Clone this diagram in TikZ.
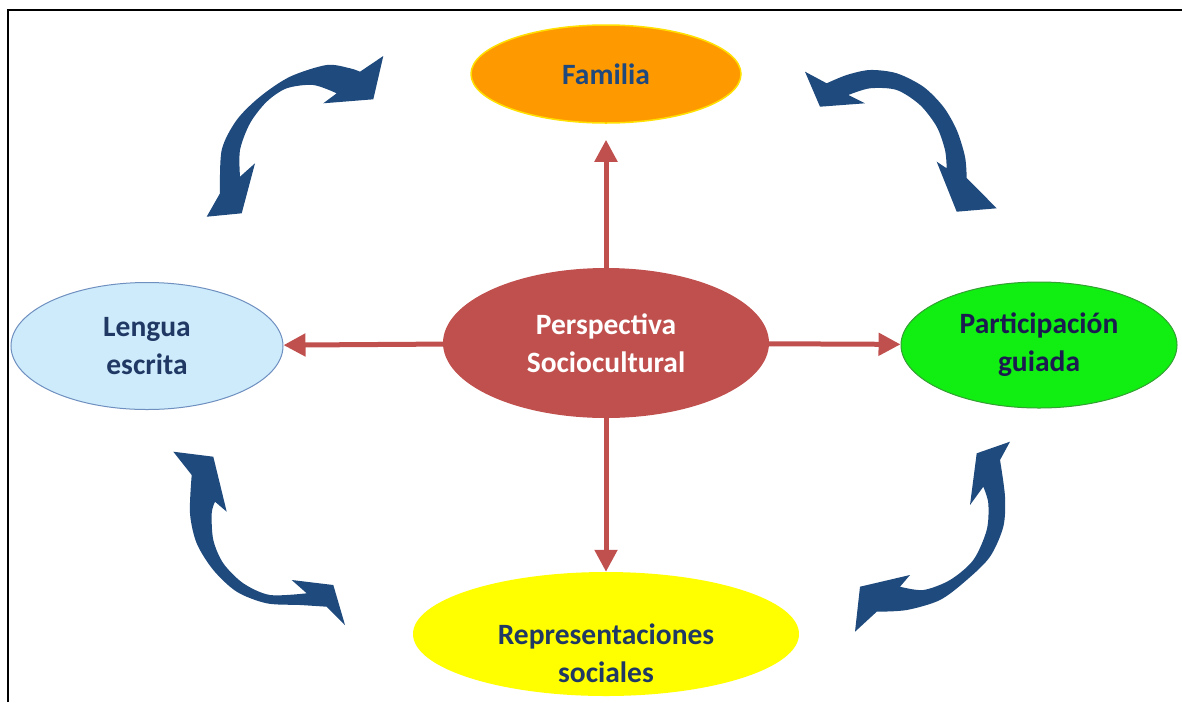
\documentclass[tikz,border=0pt]{standalone}
\usepackage{fontspec}
\setmainfont{Carlito}
\usetikzlibrary{arrows.meta,shapes.geometric}

\definecolor{linkred}{HTML}{C0504D}
\definecolor{swoosh}{HTML}{1F4A7D}
\definecolor{famfill}{HTML}{FF9900}
\definecolor{famedge}{HTML}{FFE000}
\definecolor{lenfill}{HTML}{CDEBFB}
\definecolor{lenedge}{HTML}{6E8FBF}
\definecolor{parfill}{HTML}{11EE11}
\definecolor{paredge}{HTML}{33A033}
\definecolor{repfill}{HTML}{FFFF00}
\definecolor{txtblue}{HTML}{1F497D}
\definecolor{txtdark}{HTML}{1F3864}
\definecolor{txtnavy}{HTML}{1B1B4F}

\tikzset{
  bubble/.style={ellipse, inner sep=0pt, align=center,
    font=\bfseries\fontsize{29.5}{38}\selectfont},
  link/.style={draw=linkred, line width=5pt,
    -{Triangle[width=22pt,length=22pt]}},
  swooshfill/.style={fill=swoosh}
}

\begin{document}
\begin{tikzpicture}[x=1pt,y=-1pt]
\useasboundingbox (0,0) rectangle (1182,702);

% frame lines
\draw[line width=2pt] (8,702) -- (8,10) -- (1182,10);

% ellipses
\node[bubble, fill=famfill, draw=famedge, line width=1.5pt,
      minimum width=270pt, minimum height=98pt, text=txtblue] (fam) at (606,74) {Familia};
\node[bubble, fill=lenfill, draw=lenedge, line width=1pt,
      minimum width=272pt, minimum height=127pt, text=txtdark] (len) at (147,346) {Lengua\\escrita};
\node[bubble, fill=linkred, minimum width=326pt, minimum height=150pt,
      text=white] (per) at (606,343) {Perspectiva\\Sociocultural};
\node[bubble, fill=parfill, draw=paredge, line width=1pt,
      minimum width=276pt, minimum height=126pt, text=txtnavy] (par) at (1039,345) {Participación\\guiada};
\node[bubble, fill=repfill, minimum width=386pt, minimum height=124pt] (rep) at (606,634) {};
\node[align=center, inner sep=0pt, text=txtdark,
      font=\bfseries\fontsize{29.5}{38}\selectfont] (reptext) at (606,653) {Representaciones\\sociales};

% red links from the centre
\draw[link, shorten >=16pt] (per) -- (fam);
\draw[link] (per) -- (len);
\draw[link] (per) -- (par);
\draw[link] (per) -- (rep);

% curved double arrows
% top left
\fill[swooshfill] (206.7,216.7) -- (220,193.3)
  -- plot[smooth] coordinates {(220,193.3) (221.7,150) (236.7,120) (260,96.7) (290,76.7) (326.7,65) (350,68.3) (360,71.7)}
  -- (383.3,56) -- (373.3,99.3) -- (323.3,103.3) -- (336.7,93.3)
  -- plot[smooth] coordinates {(336.7,93.3) (313.3,85) (286.7,88.3) (266.7,101.7) (250,123.3) (240,150) (240,176.7)}
  -- (255,163.3) -- (241.7,213.3) -- cycle;
% top right
\fill[swooshfill] (805,71.7) -- (826.7,83.3)
  -- plot[smooth] coordinates {(826.7,83.3) (846.7,75) (870,70) (896.7,73.3) (923.3,86.7) (943.3,106.7) (956.7,130) (965,156.7) (966.7,178)}
  -- (996.7,208.3) -- (956.7,211.7) -- (936.7,161.7) -- (946.7,168.3)
  -- plot[smooth] coordinates {(946.7,168.3) (945,150) (936.7,126.7) (920,105) (896.7,90) (870,88.3) (848.3,95)}
  -- (865,103.3) -- (820,106.7) -- cycle;
% bottom left
\fill[swooshfill] (173.3,451.7) -- (213.3,456.7) -- (226.7,511.7) -- (215,501.7)
  -- plot[smooth] coordinates {(215,501.7) (211.7,513.3) (213.3,540) (223.3,563.3) (243.3,583.3) (270,595) (306.7,593.3)}
  -- (291.7,580) -- (333.3,585) -- (345,625) -- (326.7,606.7)
  -- plot[smooth] coordinates {(326.7,606.7) (300,605) (266.7,603.3) (236.7,591.7) (213.3,570) (196.7,543.3) (190,513.3) (191.7,475)}
  -- cycle;
% bottom right
\fill[swooshfill] (1010,441.7) -- (976.7,453.3) -- (970,505) -- (983.3,486.7)
  -- plot[smooth] coordinates {(983.3,486.7) (988.3,503.3) (986.7,530) (973.3,560) (950,580) (923.3,590) (900,586.7)}
  -- (910,575) -- (860,586.7) -- (855,631.7) -- (876.7,611.7)
  -- plot[smooth] coordinates {(876.7,611.7) (906.7,610) (940,600) (966.7,580) (990,556.7) (1003.3,526.7) (1005,496.7) (1000,460)}
  -- cycle;
\end{tikzpicture}
\end{document}
